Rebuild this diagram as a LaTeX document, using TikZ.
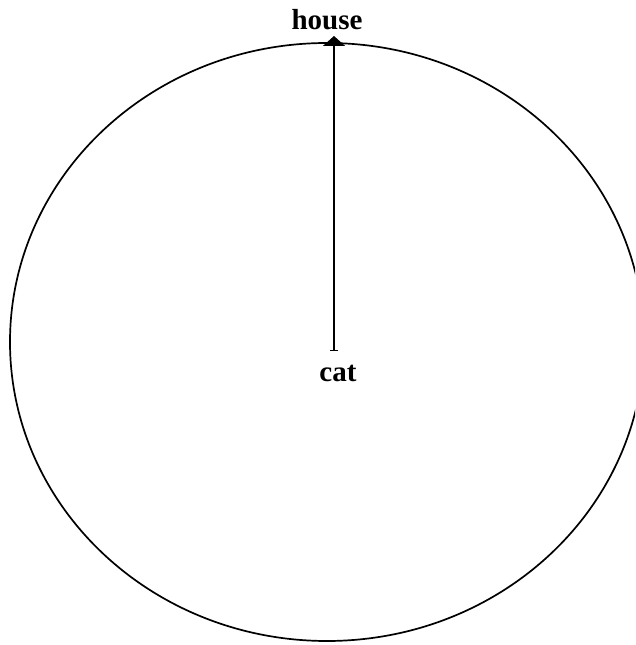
\documentclass[tikz,border=0pt]{standalone}
\usepackage{fontspec}
\setmainfont{Liberation Serif}
\usepackage{tikz}
\usetikzlibrary{arrows.meta, positioning}
\tikzset{
  ring/.style={draw=black, line width=1.7pt},
  lbl/.style={font=\fontsize{29}{32}\selectfont\bfseries, inner sep=0pt, anchor=base},
  homearr/.style={
    {Bar[width=8pt,line width=1.2pt]}-{Triangle[length=10pt,width=22pt]},
    line width=1.4pt, draw=black
  }
}

\begin{document}
\begin{tikzpicture}[x=1pt, y=1pt]
  \useasboundingbox (0,0) rectangle (635,645);
  \clip (0,0) rectangle (635,645);

  %% ── Boundary ───────────────────────────────────────────
  \draw[ring] (327,303) ellipse [x radius=317, y radius=299];

  %% ── Points: cat and house ──────────────────────────────
  \coordinate (catpt)   at (334,294);
  \coordinate (housept) at (334,609);

  \node[lbl] (cat)   at (338,263) {cat};
  \node[lbl] (house) at (327,615) {house};

  %% ── Direction home ─────────────────────────────────────
  \draw[homearr] (catpt) -- (housept);
\end{tikzpicture}
\end{document}
